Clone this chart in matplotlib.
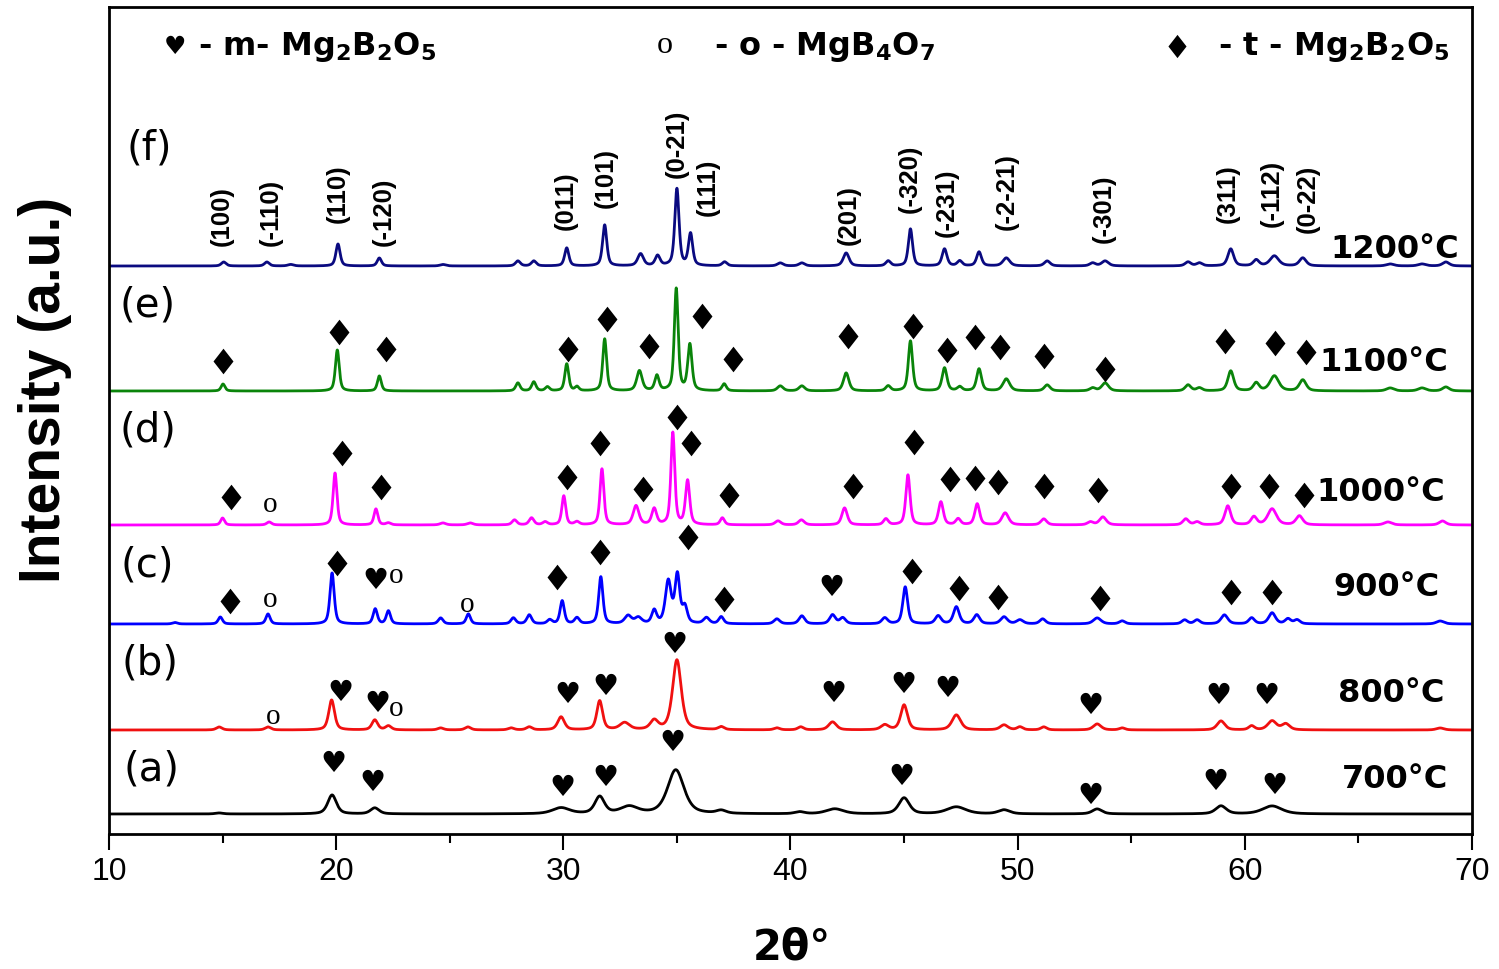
import numpy as np
import matplotlib
matplotlib.use("Agg")
import matplotlib.pyplot as plt

plt.rcParams["mathtext.fontset"] = "dejavusans"

# ---------------- data ----------------
series_labels = ["(a)", "(b)", "(c)", "(d)", "(e)", "(f)"]
temperatures = ["700°C", "800°C", "900°C", "1000°C", "1100°C", "1200°C"]
colors = ["#000000", "#f01010", "#0000ff", "#ff00ff", "#0a840a", "#0a0a80"]
offsets = [20, 104, 210, 309, 443, 568]

# peaks: (2theta, height, fwhm)
peaks_a = [(14.85, 1, 0.4), (19.82, 19, 0.45), (21.7, 6, 0.45), (29.9, 6, 0.9),
           (31.6, 17, 0.5), (32.9, 7, 0.9), (34.95, 44, 0.85), (36.95, 3, 0.5),
           (40.4, 2, 0.5), (41.95, 5, 0.9), (45.0, 16, 0.55), (47.3, 7, 1.0),
           (49.4, 4, 0.6), (53.5, 5, 0.5), (58.95, 8, 0.55), (61.2, 8, 1.0)]
peaks_b = [(14.85, 3, 0.3), (17.0, 3, 0.3), (19.8, 30, 0.3), (21.7, 10, 0.3),
           (22.3, 4, 0.3), (24.6, 2, 0.3), (25.8, 3, 0.3), (27.7, 2, 0.3),
           (28.5, 3, 0.3), (29.9, 13, 0.35), (31.6, 29, 0.3), (32.7, 7, 0.5),
           (34.0, 9, 0.4), (35.0, 70, 0.45), (36.95, 3, 0.3), (39.4, 2, 0.3),
           (40.45, 3, 0.3), (41.85, 8, 0.4), (44.15, 5, 0.4), (45.0, 25, 0.35),
           (47.3, 15, 0.45), (49.4, 5, 0.4), (50.1, 3, 0.3), (51.15, 3, 0.3),
           (53.5, 6, 0.4), (54.6, 2, 0.3), (58.95, 9, 0.4), (60.3, 4, 0.3),
           (61.2, 9, 0.45), (61.8, 6, 0.4), (68.6, 2, 0.4)]
peaks_c = [(12.9, 1.5, 0.25), (14.9, 7, 0.22), (17.0, 10, 0.22), (19.82, 51, 0.22),
           (21.72, 15, 0.22), (22.3, 13, 0.22), (24.6, 6, 0.25), (25.82, 10, 0.22),
           (27.8, 6, 0.25), (28.5, 9, 0.25), (29.4, 4, 0.25), (29.95, 23, 0.22),
           (30.6, 6, 0.25), (31.65, 47, 0.22), (32.85, 8, 0.35), (33.3, 6, 0.35),
           (34.0, 13, 0.25), (34.62, 42, 0.3), (35.02, 48, 0.25), (35.35, 16, 0.25),
           (36.3, 6, 0.3), (36.95, 7, 0.25), (39.4, 5, 0.3), (40.5, 8, 0.3),
           (41.85, 9, 0.3), (42.3, 6, 0.3), (44.15, 6, 0.3), (45.05, 37, 0.25),
           (46.5, 8, 0.3), (47.3, 17, 0.3), (48.2, 9, 0.3), (49.4, 7, 0.35),
           (50.1, 4, 0.35), (51.1, 5, 0.3), (53.5, 6, 0.4), (54.6, 3, 0.3),
           (57.35, 4, 0.3), (57.9, 4, 0.3), (59.1, 9, 0.35), (60.3, 6, 0.3),
           (61.2, 11, 0.35), (61.9, 5, 0.3), (62.3, 4, 0.3), (68.6, 3, 0.4)]
peaks_d = [(15.0, 7, 0.2), (17.05, 3, 0.25), (19.95, 52, 0.2), (21.75, 16, 0.2),
           (22.3, 2, 0.25), (24.7, 2, 0.3), (25.9, 2, 0.3), (27.85, 5, 0.25),
           (28.6, 7, 0.25), (29.2, 3, 0.25), (30.02, 29, 0.2), (30.6, 3, 0.25),
           (31.7, 56, 0.2), (33.2, 19, 0.3), (34.0, 16, 0.25), (34.82, 92, 0.2),
           (35.47, 44, 0.22), (37.0, 7, 0.22), (39.45, 4, 0.3), (40.48, 5, 0.3),
           (42.38, 17, 0.28), (44.2, 6, 0.25), (45.17, 50, 0.22), (46.62, 23, 0.25),
           (47.38, 6, 0.25), (48.22, 21, 0.25), (49.45, 12, 0.35), (51.15, 6, 0.3),
           (53.2, 3, 0.3), (53.75, 8, 0.35), (57.4, 6, 0.3), (57.9, 3, 0.3),
           (59.25, 19, 0.3), (60.4, 8, 0.3), (61.2, 16, 0.45), (62.4, 9, 0.35),
           (66.3, 3, 0.4), (68.7, 4, 0.35)]
peaks_e = [(15.02, 7, 0.2), (20.05, 41, 0.2), (21.9, 15, 0.2), (28.0, 8, 0.22),
           (28.7, 9, 0.22), (29.3, 4, 0.22), (30.15, 27, 0.2), (30.6, 4, 0.2),
           (31.82, 52, 0.2), (33.35, 20, 0.28), (34.12, 15, 0.22), (34.97, 102, 0.2),
           (35.57, 46, 0.22), (37.08, 7, 0.22), (39.55, 5, 0.3), (40.5, 5, 0.3),
           (42.45, 18, 0.28), (44.3, 5, 0.25), (45.28, 50, 0.22), (46.78, 23, 0.25),
           (47.45, 4, 0.25), (48.3, 22, 0.25), (49.5, 12, 0.35), (51.3, 6, 0.3),
           (53.3, 3, 0.3), (53.85, 8, 0.35), (57.5, 6, 0.3), (58.0, 3, 0.3),
           (59.38, 20, 0.3), (60.5, 8, 0.3), (61.3, 15, 0.45), (62.55, 11, 0.35),
           (66.4, 3, 0.4), (67.8, 3, 0.4), (68.85, 4, 0.35)]
peaks_f = [(15.05, 4, 0.25), (16.95, 4, 0.25), (18.0, 1.5, 0.3), (20.08, 22, 0.22),
           (21.9, 8, 0.22), (24.7, 1.5, 0.3), (28.0, 5, 0.25), (28.7, 5, 0.25),
           (30.15, 18, 0.22), (31.82, 41, 0.22), (33.4, 12, 0.3), (34.15, 10, 0.25),
           (35.0, 77, 0.22), (35.6, 32, 0.22), (37.1, 4, 0.25), (39.55, 3, 0.3),
           (40.5, 3, 0.3), (42.45, 13, 0.3), (44.3, 5, 0.25), (45.28, 37, 0.22),
           (46.78, 17, 0.25), (47.45, 5, 0.25), (48.3, 14, 0.25), (49.5, 8, 0.35),
           (51.3, 5, 0.3), (53.3, 3, 0.3), (53.85, 5, 0.35), (57.5, 4, 0.3),
           (58.0, 3, 0.3), (59.38, 17, 0.3), (60.5, 6, 0.3), (61.3, 10, 0.45),
           (62.55, 8, 0.35), (66.4, 2, 0.4), (67.8, 2, 0.4), (68.85, 4, 0.35)]
all_peaks = [peaks_a, peaks_b, peaks_c, peaks_d, peaks_e, peaks_f]

# phase markers (2theta, height on the intensity scale)
heart_x = [21.75, 41.82,
           20.21, 21.8, 30.2, 31.87, 34.91, 41.87, 44.99, 46.93, 53.22, 58.86, 60.97,
           19.86, 21.58, 29.98, 31.87, 34.82, 44.9, 53.22, 58.72, 61.32]
heart_y = [254, 247,
           142, 131, 140, 148, 190, 141, 150, 146, 129, 139, 139,
           71, 52, 47, 57, 92, 58, 39, 53, 49]
circle_x = [17.09, 17.09, 22.63, 25.76, 17.22, 22.63]
circle_y = [330, 235, 259, 230, 118, 126]
diamond_x = [15.02, 20.12, 22.19, 30.2, 31.92, 33.77, 36.1, 37.46, 42.53, 45.39,
             46.88, 48.12, 49.22, 51.15, 53.84, 59.12, 61.32, 62.68,
             15.37, 20.26, 21.97, 30.16, 31.61, 33.5, 35.0, 35.62, 37.29, 42.75,
             45.43, 47.02, 48.12, 49.13, 51.15, 53.53, 59.38, 61.06, 62.6,
             15.33, 20.04, 29.72, 31.61, 35.48, 37.07, 45.34, 47.41, 49.13, 53.62,
             59.38, 61.19]
diamond_y = [473, 502, 485, 485, 515, 488, 518, 475, 498, 508,
             484, 497, 487, 478, 465, 493, 491, 482,
             337, 381, 347, 357, 391, 345, 417, 391, 339, 348,
             392, 355, 356, 352, 348, 344, 348, 348, 339,
             233, 271, 257, 282, 297, 235, 263, 246, 237, 236,
             242, 242]

hkl_labels = ["(100)", "(-110)", "(110)", "(-120)", "(011)", "(101)", "(0-21)", "(111)",
              "(201)", "(-320)", "(-231)", "(-2-21)", "(-301)", "(311)", "(-112)", "(0-22)"]
hkl_x = [14.95, 17.1, 20.05, 22.1, 30.1, 31.85, 35.0, 36.35,
         42.55, 45.25, 46.9, 49.5, 53.8, 59.25, 61.2, 62.75]
hkl_y = [589, 589, 612, 589, 605, 627, 657, 619,
         590, 622, 598, 605, 592, 612, 608, 602]

x_ticks = [10, 20, 30, 40, 50, 60, 70]

# ---------------- figure ----------------
W, H = 1499, 970
fig = plt.figure(figsize=(W / 100, H / 100), dpi=100)
ax = fig.add_axes([109 / W, 1 - 835 / H, 1363 / W, 827 / H])

two_theta = np.linspace(10, 70, 6001)


def pseudo_voigt(x, x0, w, eta=0.55):
    lor = 1.0 / (1.0 + ((x - x0) / (w / 2.0)) ** 2)
    gau = np.exp(-4 * np.log(2) * (x - x0) ** 2 / w ** 2)
    return eta * lor + (1 - eta) * gau


for peaks, off, col in zip(all_peaks, offsets, colors):
    y = np.full_like(two_theta, float(off))
    for p, h, w in peaks:
        y += h * pseudo_voigt(two_theta, p, w)
    ax.plot(two_theta, y, color=col, lw=2.0, solid_joinstyle="round")

# series labels and temperatures
label_x = [11.85, 11.8, 11.7, 11.7, 11.7, 11.75]
label_y = [65, 172, 270, 405, 530, 687]
for lab, lx, ly in zip(series_labels, label_x, label_y):
    ax.text(lx, ly, lab, fontsize=29, ha="center", va="center", family="DejaVu Sans")
temp_x = [68.93, 68.8, 68.58, 68.8, 68.93, 69.42]
temp_y = [55, 141, 248, 343, 473, 586]
for t, tx, ty in zip(temperatures, temp_x, temp_y):
    ax.text(tx, ty, t, fontsize=23, fontweight="bold", ha="right", va="center",
            family="DejaVu Sans")

# phase markers
for hx, hy in zip(heart_x, heart_y):
    ax.text(hx, hy, "\u2665", fontsize=21, ha="center", va="center",
            family="DejaVu Sans", color="black")
for cx, cy in zip(circle_x, circle_y):
    ax.text(cx, cy, "o", fontsize=21, ha="center", va="center",
            family="Liberation Serif", color="black")
diamond_marker = [(0, 1), (0.78, 0), (0, -1), (-0.78, 0), (0, 1)]
ax.scatter(diamond_x, diamond_y, marker=diamond_marker, s=340, color="black",
           linewidths=0, zorder=3)

# hkl labels
for lab, hx, hy in zip(hkl_labels, hkl_x, hkl_y):
    ax.text(hx, hy, lab, rotation=90, fontsize=18.5, fontweight="bold",
            ha="center", va="bottom", family="Liberation Sans")

# legend row
ax.text(12.9, 788, "\u2665", fontsize=18, ha="center", va="center", family="DejaVu Sans")
ax.text(13.92, 788, r"- m- $\mathbf{Mg_2B_2O_5}$", fontsize=23, fontweight="bold",
        ha="left", va="center", family="DejaVu Sans")
ax.text(34.47, 790, "o", fontsize=23, ha="center", va="center", family="Liberation Serif")
ax.text(36.63, 788, r"- o - $\mathbf{MgB_4O_7}$", fontsize=23, fontweight="bold",
        ha="left", va="center", family="DejaVu Sans")
ax.scatter([57.0], [788], marker=diamond_marker, s=280, color="black", linewidths=0)
ax.text(58.81, 788, r"- t - $\mathbf{Mg_2B_2O_5}$", fontsize=23, fontweight="bold",
        ha="left", va="center", family="DejaVu Sans")

# axes styling
ax.set_xlim(10, 70)
ax.set_ylim(0, 827)
ax.set_xticks(x_ticks)
ax.set_xticks(np.arange(15, 70, 10), minor=True)
ax.set_yticks([])
ax.tick_params(axis="x", which="major", direction="out", length=11.5, width=1.5,
               labelsize=23, pad=4, top=False)
ax.tick_params(axis="x", which="minor", direction="out", length=6.5, width=1.5, top=False)
for lab in ax.get_xticklabels():
    lab.set_family("Liberation Sans")
for s in ax.spines.values():
    s.set_linewidth(2.0)

fig.text(45 / W, 1 - 390 / H, "Intensity (a.u.)", rotation=90, fontsize=41,
         fontweight="bold", ha="center", va="center", family="Liberation Sans")
fig.text(792 / W, 1 - 948 / H, "2θ°", fontsize=30, fontweight="bold",
         ha="center", va="center", family="DejaVu Sans")

fig.savefig("out.png", dpi=100)
